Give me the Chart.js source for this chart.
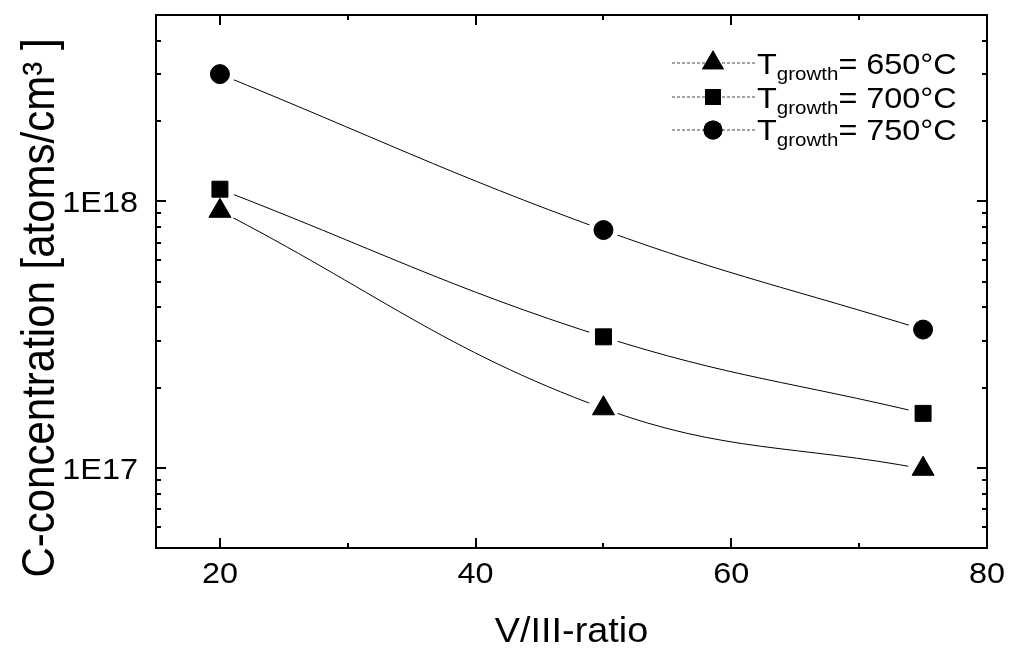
<!DOCTYPE html>
<html lang="en">
<head>
<meta charset="UTF-8" />
<title>C-concentration vs V/III-ratio</title>
<script src="https://cdn.jsdelivr.net/npm/chart.js"></script>
<style>
  body { margin: 0; background: #fff; }
  canvas { display: block; }
</style>
</head>
<body>
<canvas id="cChart" width="1009" height="648"></canvas>
<script>
  // V/III ratios of the grown samples
  const ratios = [20, 50, 75];
  // carbon concentration in atoms/cm^3, one array per growth temperature
  const conc650 = [9.2e17, 1.67e17, 9.9e16];
  const conc700 = [1.11e18, 3.1e17, 1.6e17];
  const conc750 = [3.0e18, 7.8e17, 3.3e17];
  const temps = ['650°C', '700°C', '750°C'];

  // axis ticks
  const xMajor = [20, 40, 60, 80];
  const xMinor = [30, 50, 70];
  const yMajor = [1e17, 1e18];
  const yMajorLabels = ['1E17', '1E18'];
  const yMinor = [6e16, 7e16, 8e16, 9e16, 2e17, 3e17, 4e17, 5e17, 6e17, 7e17, 8e17, 9e17, 2e18, 3e18, 4e18];

  const series = [conc650, conc700, conc750];
  const symbols = ['triangle', 'rect', 'circle'];
  const symbolSizes = [12.7, 11.3, 9.5];
  const FONT = "'Liberation Sans', Arial, sans-serif";
  const SX = 1.08; // text is drawn slightly wide

  const datasets = [];
  series.forEach((vals, i) => {
    const pts = ratios.map((r, k) => ({ x: r, y: vals[k] }));
    // smooth connecting curve; white discs leave a gap around each symbol
    datasets.push({
      label: 'curve ' + temps[i],
      data: pts,
      order: 2,
      borderColor: '#000',
      borderWidth: 1,
      tension: 0.4,
      fill: false,
      pointRadius: 15,
      pointStyle: 'circle',
      pointBackgroundColor: '#fff',
      pointBorderWidth: 0
    });
    datasets.push({
      label: temps[i],
      data: pts,
      order: 1,
      showLine: false,
      pointStyle: symbols[i],
      pointRadius: symbolSizes[i],
      pointBackgroundColor: '#000',
      pointBorderColor: '#000',
      pointBorderWidth: 1
    });
  });

  function wideText(ctx, text, x, y, size, align, rot) {
    ctx.save();
    ctx.font = size + 'px ' + FONT;
    ctx.textAlign = align;
    ctx.textBaseline = 'alphabetic';
    ctx.translate(x, y);
    ctx.scale(SX, 1);
    if (rot) ctx.rotate(rot);
    ctx.fillText(text, 0, 0);
    ctx.restore();
  }

  const framePlugin = {
    id: 'frame',
    afterDraw(chart) {
      const ctx = chart.ctx;
      const a = chart.chartArea;
      const xs = chart.scales.x, ys = chart.scales.y;
      ctx.save();
      ctx.strokeStyle = '#000';
      ctx.fillStyle = '#000';
      ctx.lineWidth = 2;
      ctx.strokeRect(a.left, a.top, a.right - a.left, a.bottom - a.top);

      // inward ticks on all four sides
      ctx.beginPath();
      const xTick = (v, len) => {
        const px = Math.round(xs.getPixelForValue(v));
        ctx.moveTo(px, a.bottom); ctx.lineTo(px, a.bottom - len);
        ctx.moveTo(px, a.top); ctx.lineTo(px, a.top + len);
      };
      const yTick = (v, len) => {
        const py = Math.round(ys.getPixelForValue(v));
        ctx.moveTo(a.left, py); ctx.lineTo(a.left + len, py);
        ctx.moveTo(a.right, py); ctx.lineTo(a.right - len, py);
      };
      xMajor.forEach(v => xTick(v, 10));
      xMinor.forEach(v => xTick(v, 5));
      yMajor.forEach(v => yTick(v, 10));
      yMinor.forEach(v => yTick(v, 5));
      ctx.stroke();

      // tick labels
      xMajor.forEach(v => wideText(ctx, String(v), xs.getPixelForValue(v), 583, 30, 'center'));
      yMajor.forEach((v, i) => wideText(ctx, yMajorLabels[i], 138, ys.getPixelForValue(v) + 11, 30, 'right'));

      // axis titles
      wideText(ctx, 'V/III-ratio', (a.left + a.right) / 2, 642, 35, 'center');
      wideText(ctx, 'C-concentration [atoms/cm³ ]', 54, 308, 42, 'center', -Math.PI / 2);

      // legend
      const rows = [63, 97, 130];
      const textBase = [74, 108, 140];
      rows.forEach((ry, i) => {
        ctx.save();
        ctx.lineWidth = 1;
        ctx.strokeStyle = '#444';
        ctx.setLineDash([3, 2]);
        ctx.beginPath();
        ctx.moveTo(672, ry); ctx.lineTo(755, ry);
        ctx.stroke();
        ctx.restore();
        Chart.helpers.drawPoint(ctx, {
          pointStyle: symbols[i], radius: symbolSizes[i], rotation: 0, borderWidth: 0
        }, 713, ry);
        ctx.fill();
        let x = 757;
        const b = textBase[i];
        ctx.font = '30px ' + FONT;
        wideText(ctx, 'T', x, b, 30, 'left');
        x += ctx.measureText('T').width * SX;
        ctx.font = '19px ' + FONT;
        wideText(ctx, 'growth', x, b + 6, 19, 'left');
        x += ctx.measureText('growth').width * SX;
        wideText(ctx, '= ' + temps[i], x, b, 30, 'left');
      });
      ctx.restore();
    }
  };

  new Chart(document.getElementById('cChart'), {
    type: 'line',
    data: { datasets: datasets },
    options: {
      responsive: false,
      animation: false,
      layout: { padding: { left: 156, top: 13, right: 22, bottom: 100 } },
      plugins: { legend: { display: false }, tooltip: { enabled: false } },
      scales: {
        x: { type: 'linear', min: 15, max: 80, display: false },
        y: { type: 'logarithmic', min: 5e16, max: 5e18, display: false }
      }
    },
    plugins: [framePlugin]
  });
</script>
</body>
</html>
